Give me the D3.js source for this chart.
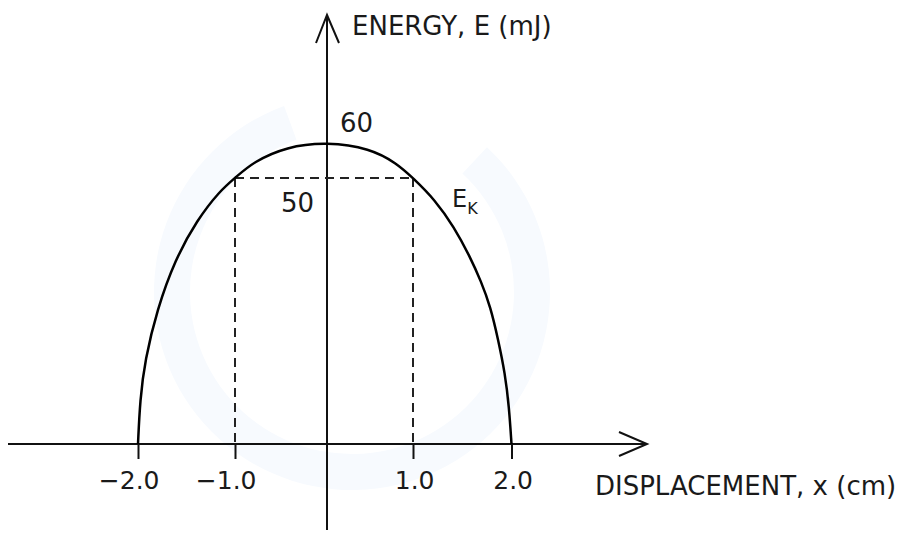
<!DOCTYPE html>
<meta charset="utf-8">
<title>Energy vs displacement</title>
<style>
  body { margin: 0; background: #fff; }
  text { font-family: "DejaVu Sans", sans-serif; fill: #1a1a1a; }
</style>
<div id="viz"></div>
<script src="https://cdnjs.cloudflare.com/ajax/libs/d3/7.8.5/d3.min.js"></script>
<script>

var width = 906;
var height = 533;

// displacement (cm) and kinetic energy (mJ)
const curveX = [-2, -1.979, -1.928, -1.804, -1.619, -1.392, -1.155, -1, -0.8, -0.44, 0, 0.5, 0.81, 1, 1.223, 1.416, 1.579, 1.69, 1.787, 1.866, 1.934, 1.975, 2];
const curveE = [0, 8.3, 15.8, 25.2, 34.6, 42.1, 47.6, 50, 54.5, 58.7, 60, 58.25, 54.1, 50, 45.9, 40.8, 35.2, 30.6, 25.8, 19.5, 13.3, 7.0, 0];

const xTicks = [-2, -1, 1, 2];
const xTickLabels = ["\u22122.0", "\u22121.0", "1.0", "2.0"];

// dashed guide at x = ±1.0, E = 50
const markX = [-1, 1];
const markE = 50;
const peakE = 60;

// hand drawn sketch: divisions are not evenly spaced
var x = d3.scaleLinear().domain([-2, -1, 0, 1, 2]).range([138, 235, 327, 413, 511.5]);
var y = d3.scaleLinear().domain([0, 50, 60]).range([444, 178, 142]);

var svg = d3.select("#viz")
  .append("svg")
  .attr("width", width)
  .attr("height", height);

// faint watermark ring
svg.append("path")
  .attr("transform", "translate(352,292)")
  .attr("d", d3.arc()({innerRadius: 162, outerRadius: 198, startAngle: 0.75, endAngle: 2 * Math.PI - 0.35}))
  .attr("fill", "#f7fafe");

// axes
var axisY = y(0);
var axisX = x(0);

svg.append("line")
  .attr("x1", 8).attr("y1", axisY)
  .attr("x2", 647).attr("y2", axisY)
  .attr("stroke", "#111").attr("stroke-width", 2);
svg.append("path")
  .attr("d", "M619," + (axisY - 12) + " L647," + axisY + " L619," + (axisY + 12))
  .attr("fill", "none").attr("stroke", "#111").attr("stroke-width", 2);

svg.append("line")
  .attr("x1", axisX).attr("y1", 530)
  .attr("x2", axisX).attr("y2", 15)
  .attr("stroke", "#111").attr("stroke-width", 2);
svg.append("path")
  .attr("d", "M" + (axisX - 11) + ",43 L" + axisX + ",15 L" + (axisX + 12) + ",43")
  .attr("fill", "none").attr("stroke", "#111").attr("stroke-width", 2);

var xAxis = svg.append("g")
  .attr("transform", "translate(0," + axisY + ")")
  .call(d3.axisBottom(x)
    .tickValues(xTicks)
    .tickSize(15)
    .tickPadding(12)
    .tickFormat((d, i) => xTickLabels[i]));
xAxis.select(".domain").remove();
xAxis.selectAll(".tick line").attr("stroke", "#111").attr("stroke-width", 2);
xAxis.selectAll(".tick text")
  .attr("font-family", "DejaVu Sans, sans-serif")
  .attr("font-size", 25)
  .attr("fill", "#1a1a1a")
  .attr("text-anchor", "end")
  .attr("dx", 21);

// dashed guides
var guides = svg.append("g")
  .attr("stroke", "#222")
  .attr("stroke-width", 2)
  .attr("stroke-dasharray", "9,6")
  .attr("fill", "none");

guides.selectAll("line.v")
  .data(markX)
  .join("line")
  .attr("class", "v")
  .attr("x1", d => x(d)).attr("y1", y(markE))
  .attr("x2", d => x(d)).attr("y2", y(0));

guides.append("line")
  .attr("x1", x(markX[0])).attr("y1", y(markE))
  .attr("x2", x(markX[1])).attr("y2", y(markE));

// kinetic energy curve (basis smooths out reading noise)
var pts = curveX.map((d, i) => [d, curveE[i]]);
svg.append("path")
  .datum(pts)
  .attr("d", d3.line()
    .x(d => x(d[0]))
    .y(d => y(d[1]))
    .curve(d3.curveBasis))
  .attr("fill", "none")
  .attr("stroke", "#000")
  .attr("stroke-width", 2.5);

// labels
svg.append("text")
  .attr("x", axisX + 13).attr("y", y(peakE) - 10)
  .attr("font-size", 26)
  .text(peakE);

svg.append("text")
  .attr("x", axisX - 13).attr("y", y(markE) + 34)
  .attr("text-anchor", "end")
  .attr("font-size", 26)
  .text(markE);

var ek = svg.append("text")
  .attr("x", x(1) + 39).attr("y", y(markE) + 29)
  .attr("font-size", 24);
ek.append("tspan").text("E");
ek.append("tspan").attr("font-size", 16).attr("dy", 7).text("K");

svg.append("text")
  .attr("x", axisX + 25).attr("y", 35)
  .attr("font-size", 26)
  .text("ENERGY, E (mJ)");

svg.append("text")
  .attr("x", 595).attr("y", 495)
  .attr("font-size", 26)
  .text("DISPLACEMENT, x (cm)");

</script>
